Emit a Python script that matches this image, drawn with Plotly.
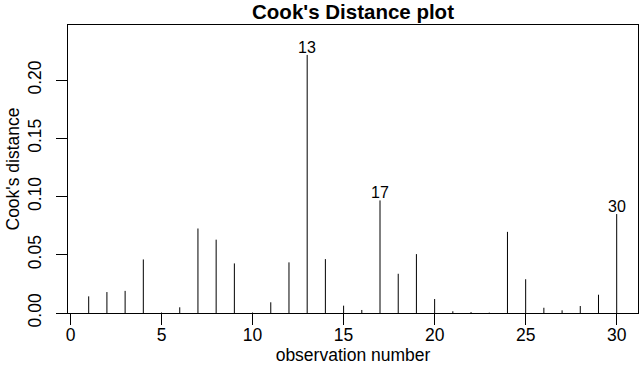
import plotly.graph_objects as go

obs = list(range(1, 31))
cooks = [0.0143, 0.018, 0.019, 0.046, 0.0004, 0.0049, 0.0726, 0.063, 0.0426, 0.0004,
         0.0092, 0.0435, 0.2217, 0.0463, 0.0063, 0.0026, 0.0967, 0.0337, 0.0506, 0.012,
         0.0015, 0.0008, 0.0003, 0.0697, 0.029, 0.0045, 0.0023, 0.0060, 0.0157, 0.085]
labelled = [13, 17, 30]
x_ticks = [0, 5, 10, 15, 20, 25, 30]
y_ticks = [0.00, 0.05, 0.10, 0.15, 0.20]
y_tick_text = ["0.00", "0.05", "0.10", "0.15", "0.20"]

FONT = "Liberation Sans, Arial, sans-serif"

xs, ys = [], []
for o, c in zip(obs, cooks):
    xs += [o, o, None]
    ys += [0, c, None]

fig = go.Figure()
fig.add_trace(go.Scatter(x=xs, y=ys, mode="lines",
                         line=dict(color="black", width=1), hoverinfo="skip",
                         showlegend=False))

for o in labelled:
    fig.add_annotation(x=o, y=cooks[o - 1], text=str(o), showarrow=False,
                       xanchor="center", yanchor="bottom", yshift=-3,
                       font=dict(family=FONT, size=16, color="black"))

fig.update_layout(
    width=644, height=369,
    margin=dict(l=68, r=6, t=25, b=55.5),
    paper_bgcolor="white", plot_bgcolor="white",
    font=dict(family=FONT, size=17.5, color="black"),
    title=dict(text="<b>Cook's Distance plot</b>", x=0.5, xref="paper",
               y=1 - 11.5 / 369, yref="container", yanchor="middle",
               font=dict(family=FONT, size=20.5, color="black")),
    xaxis=dict(range=[-0.137, 31.17], tickvals=x_ticks, ticks="outside",
               ticklen=11, tickcolor="black", tickwidth=1,
               ticklabelstandoff=-5,
               showline=True, linecolor="black", linewidth=1, mirror=True,
               showgrid=False, zeroline=False, automargin=False,
               title=dict(text="observation number", standoff=0,
                          font=dict(size=17.5))),
    yaxis=dict(range=[0, 0.2474], tickvals=y_ticks, ticktext=y_tick_text,
               ticks="outside", ticklen=11, tickcolor="black", tickwidth=1,
               tickangle=-90, automargin=False, ticklabelstandoff=8,
               showline=True, linecolor="black", linewidth=1, mirror=True,
               showgrid=False, zeroline=False,
               title=dict(text="Cook's distance", standoff=0,
                          font=dict(size=17.5))),
)

fig.write_html("out.html", config={"displayModeBar": False},
               post_script="document.body.style.margin='0';")
